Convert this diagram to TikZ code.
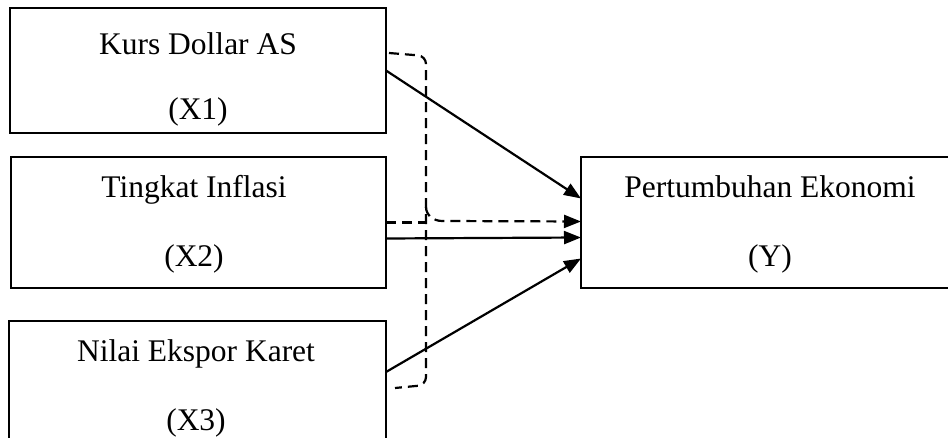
\documentclass[tikz,border=0pt]{standalone}
\usepackage{fontspec}
\setmainfont{Liberation Serif}
\usetikzlibrary{arrows.meta,calc}
\begin{document}
\begin{tikzpicture}[x=1pt,y=-1pt,
  box/.style={draw,line width=2.7pt,inner sep=0pt,outer sep=0pt,anchor=north west},
  lbl/.style={anchor=base,inner sep=0pt,font=\fontsize{31.5}{37}\selectfont},
  arr/.style={line width=2.2pt,-{Triangle[length=17pt,width=13pt]}},
  dsh/.style={line width=2.2pt,dash pattern=on 10pt off 6pt}]
\useasboundingbox (0,0) rectangle (948,438);
\clip (0,0) rectangle (948,438);
% boxes
\node[box,minimum width=376pt,minimum height=125pt] (x1) at (10,8) {};
\node[box,minimum width=375pt,minimum height=131pt] (x2) at (11,157) {};
\node[box,minimum width=377pt,minimum height=130pt] (x3) at (9,321) {};
\node[box,minimum width=378pt,minimum height=131pt] (yb) at (581,157) {};
% labels
\node[lbl] (t1a) at (198,55) {Kurs Dollar AS};
\node[lbl] (t1b) at (198,120) {(X1)};
\node[lbl] (t2a) at (194,198) {Tingkat Inflasi};
\node[lbl] (t2b) at (194,267) {(X2)};
\node[lbl] (t3a) at (196,361) {Nilai Ekspor Karet};
\node[lbl] (t3b) at (196,430) {(X3)};
\node[lbl] (tya) at (770,198) {Pertumbuhan Ekonomi};
\node[lbl] (tyb) at (770,267) {(Y)};
% bracket coordinates
\coordinate (bt1) at (389,53);
\coordinate (bt2) at (426,56);
\coordinate (bb2) at (426,385);
\coordinate (bb1) at (395,388);
\coordinate (bmid) at (426,207);
\coordinate (bturn) at (442,221);
\coordinate (bx2) at (426,222.5);
% dashed bracket
\draw[dsh,rounded corners=8pt] (bt1) -- (bt2) -- (bb2) -- (bb1);
\draw[dsh] (x2.east) -- (bx2);
\draw[dsh,arr] (bmid) to[out=-90,in=180] (bturn) -- ($(yb.west)+(0,-1)$);
% solid arrows
\draw[arr] (x1.east) -- ($(yb.west)+(0,-24)$);
\draw[arr] ($(x2.east)+(0,16)$) -- ($(yb.west)+(0,15)$);
\draw[arr] ($(x3.north east)+(0,51)$) -- ($(yb.west)+(0,36)$);
\end{tikzpicture}
\end{document}
